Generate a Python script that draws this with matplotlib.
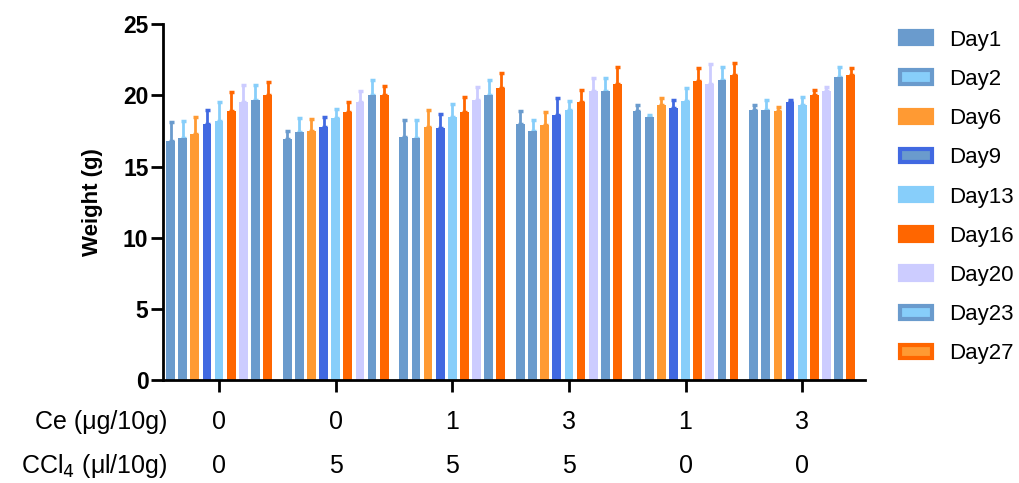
import numpy as np
import matplotlib.pyplot as plt
from matplotlib.patches import Patch

plt.rcParams['font.family'] = ['Liberation Sans', 'DejaVu Sans']

days = ['Day1', 'Day2', 'Day6', 'Day9', 'Day13', 'Day16', 'Day20', 'Day23', 'Day27']
ce_labels = ['0', '0', '1', '3', '1', '3']
ccl4_labels = ['0', '5', '5', '5', '0', '0']

# mean weight per group (rows = day, cols = group)
means = np.array([
    [16.8, 16.9, 17.1, 18.0, 18.9, 19.0],   # Day1
    [17.0, 17.4, 17.0, 17.5, 18.5, 19.0],   # Day2
    [17.3, 17.5, 17.8, 17.9, 19.3, 18.9],   # Day6
    [18.0, 17.8, 17.7, 18.6, 19.1, 19.5],   # Day9
    [18.2, 18.4, 18.5, 19.0, 19.6, 19.3],   # Day13
    [18.9, 18.8, 18.8, 19.5, 21.0, 20.0],   # Day16
    [19.5, 19.5, 19.7, 20.3, 20.8, 20.3],   # Day20
    [19.7, 20.0, 20.0, 20.3, 21.1, 21.3],   # Day23
    [20.0, 20.0, 20.5, 20.8, 21.4, 21.4],   # Day27
])
errs = np.array([
    [1.3, 0.6, 1.2, 0.9, 0.4, 0.3],
    [1.2, 1.0, 1.3, 0.8, 0.1, 0.7],
    [1.2, 0.85, 1.2, 0.9, 0.5, 0.25],
    [0.95, 0.7, 1.0, 1.2, 0.6, 0.2],
    [1.35, 0.65, 0.9, 0.6, 0.9, 0.55],
    [1.35, 0.75, 1.05, 0.9, 0.9, 0.4],
    [1.25, 0.8, 0.9, 0.9, 1.4, 0.3],
    [1.05, 1.05, 1.05, 0.95, 0.9, 0.7],
    [0.95, 0.65, 1.1, 1.2, 0.9, 0.55],
])

bar_colors = ['#6a9bcd', '#6a9bcd', '#ff9a33', '#4169e1', '#87cefa',
              '#ff6600', '#ccccff', '#6a9bcd', '#ff6600']
inner_colors = ['#6a9bcd', '#87cefa', '#ff9a33', '#6a9bcd', '#87cefa',
                '#ff6600', '#ccccff', '#87cefa', '#ff9a33']
err_colors = ['#6a9bcd', '#87cefa', '#ff9a33', '#4169e1', '#87cefa',
              '#ff6600', '#ccccff', '#87cefa', '#ff6600']

fig = plt.figure(figsize=(10.19, 4.83), dpi=100)
ax = fig.add_axes([0.16, 0.213, 0.689, 0.737])

x = np.arange(len(ce_labels))
slot = 0.104
width = 0.075
for i, d in enumerate(days):
    pos = x + (i - 4) * slot
    ax.bar(pos, means[i], width, color=bar_colors[i], zorder=2)
    ax.errorbar(pos, means[i], yerr=[np.zeros(len(x)), errs[i]], fmt='none',
                ecolor=err_colors[i], elinewidth=2, capsize=1.8, capthick=2.5, zorder=1)

ax.set_xlim(-0.48, 5.54)
ax.set_ylim(0, 25)
ax.set_yticks([0, 5, 10, 15, 20, 25])
ax.set_xticks(x)
ax.set_xticklabels([])
for s in ['top', 'right']:
    ax.spines[s].set_visible(False)
for s in ['left', 'bottom']:
    ax.spines[s].set_linewidth(2)
ax.tick_params(axis='both', width=2, length=8.5, direction='out')
ax.tick_params(axis='y', labelsize=16.5, pad=2)
for lab in ax.get_yticklabels():
    lab.set_fontweight('bold')
ax.set_ylabel('Weight (g)', fontsize=16, fontweight='bold')
ax.yaxis.set_label_coords(-0.085, 0.5)

trans = ax.get_xaxis_transform()
for xi, c, k in zip(x, ce_labels, ccl4_labels):
    ax.text(xi, -0.118, c, transform=trans, ha='center', va='center', fontsize=18)
    ax.text(xi, -0.242, k, transform=trans, ha='center', va='center', fontsize=18)
ax.text(-0.44, -0.118, 'Ce (μg/10g)', transform=trans, ha='right', va='center', fontsize=18)
ax.text(-0.44, -0.242, 'CCl$_4$ (μl/10g)', transform=trans, ha='right', va='center', fontsize=18)

handles = [Patch(facecolor=inner_colors[i], edgecolor=bar_colors[i], linewidth=3)
           for i in range(len(days))]
fig.legend(handles, days, loc='upper left', bbox_to_anchor=(0.864, 0.98),
           frameon=False, fontsize=16, handlelength=1.4, handleheight=0.55,
           handletextpad=0.8, labelspacing=0.82)

fig.savefig('out.png', dpi=100)
